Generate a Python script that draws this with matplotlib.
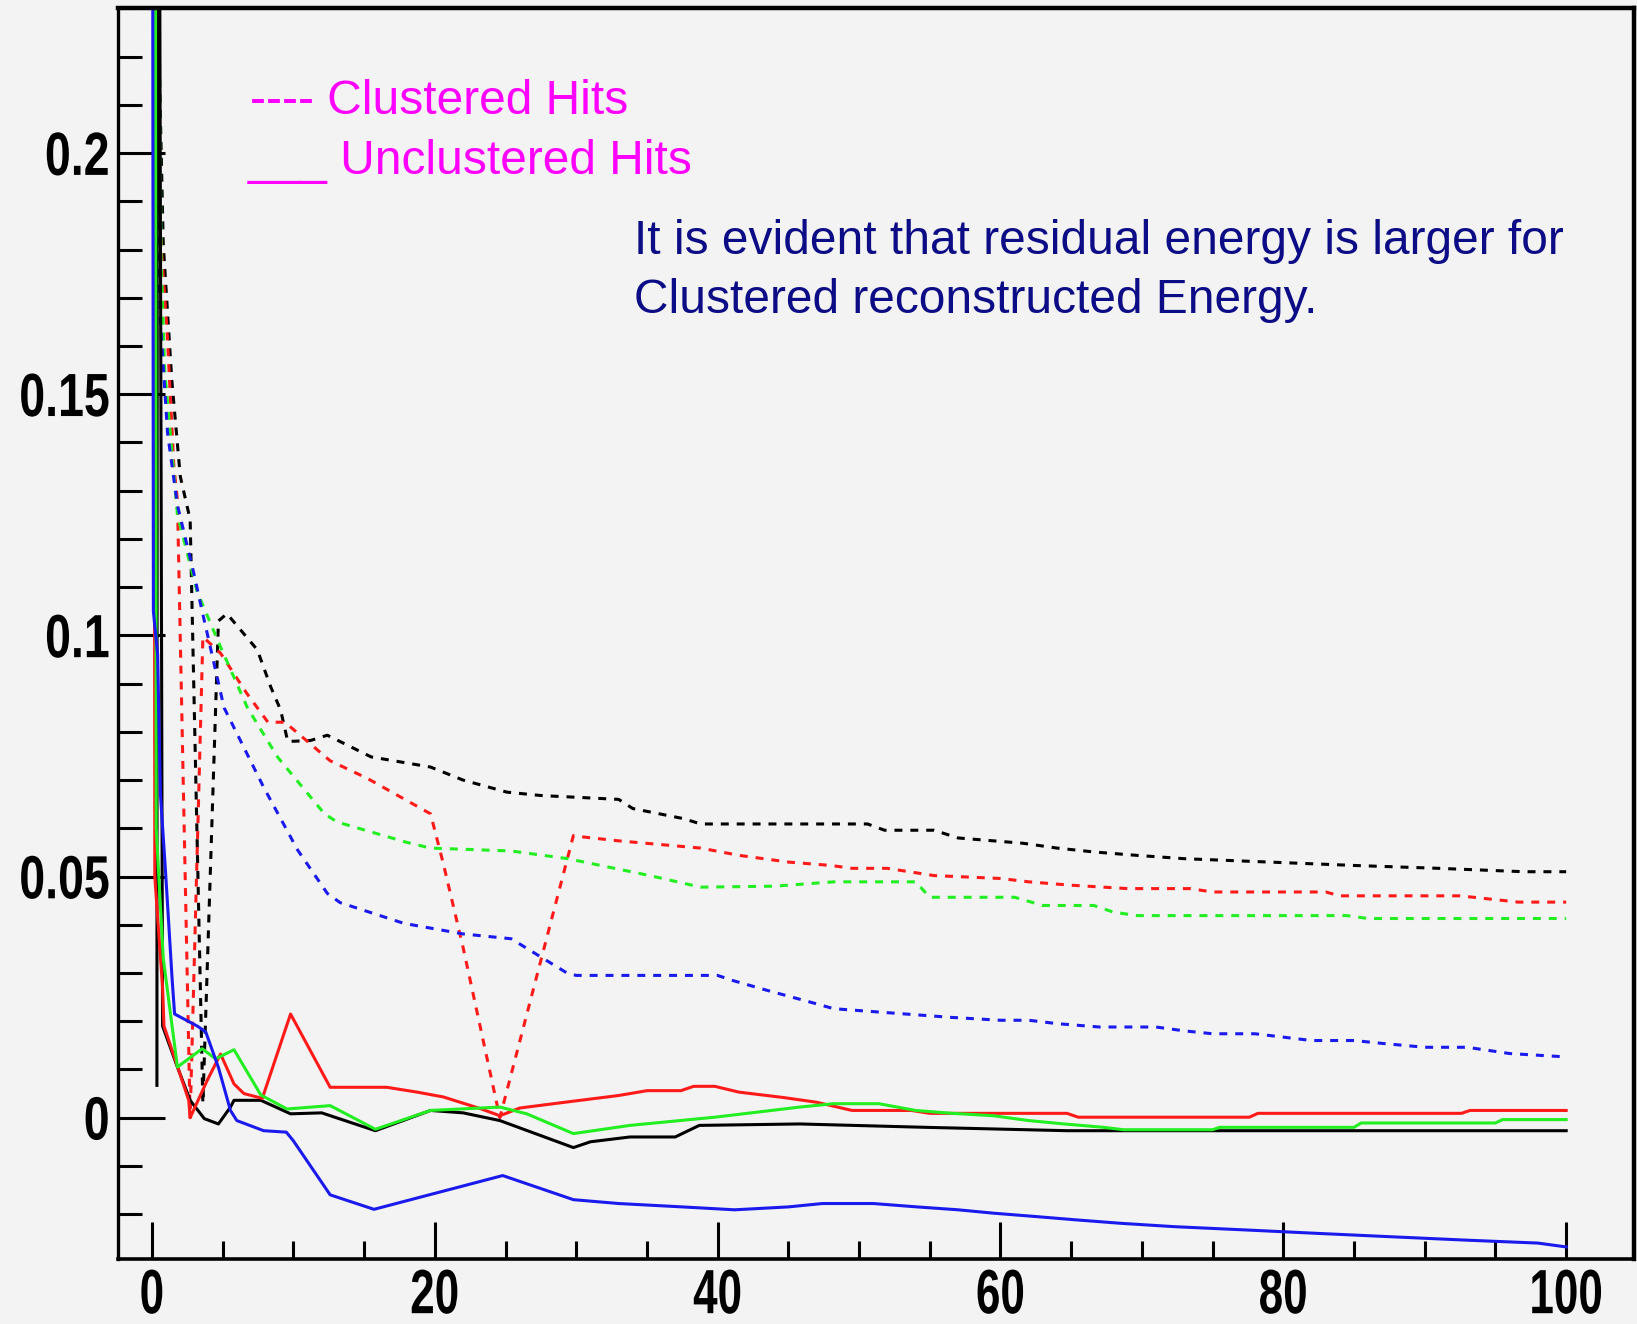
import matplotlib
matplotlib.use('Agg')
import matplotlib.pyplot as plt
from matplotlib.ticker import MultipleLocator
from matplotlib.patheffects import AbstractPathEffect
from matplotlib.transforms import Affine2D

# Clustered hits (dashed)
black_dash_x = [0.3, 0.5, 0.8, 1.4, 2.0, 2.7, 3.6, 4.7, 5.3, 7.45, 8.4, 9.1, 9.6, 11.2, 12.4, 15.5, 19.7, 22.0, 25.1,
                27.5, 33.0, 34.0, 37.6, 38.8, 50.6, 51.8, 55.3, 57.0, 61.6, 64.0, 66.6, 69.6, 73.0, 79.0, 85.0, 91.0, 97.0, 100.0]
black_dash_y = [0.40, 0.22, 0.181, 0.153, 0.133, 0.124, 0.003, 0.103, 0.1045, 0.097, 0.0893, 0.0845, 0.078, 0.0782, 0.0793, 0.0748, 0.0727, 0.070, 0.0675,
                0.0668, 0.066, 0.0641, 0.062, 0.0609, 0.0609, 0.0596, 0.0596, 0.058, 0.0569, 0.0559, 0.0551, 0.0544, 0.0537, 0.053, 0.0523, 0.0517, 0.051, 0.051]

red_dash_x = [0.2, 0.5, 1.07, 1.55, 1.8, 2.7, 3.6, 4.85, 6.7, 8.2, 9.4, 12.6, 15.2, 19.7, 20.6, 22.0, 24.6, 29.8, 30.5, 33.0,
              38.8, 41.5, 45.0, 48.0, 49.5, 52.0, 55.3, 60.0, 62.0, 65.0, 69.0, 73.4, 75.0, 83.0, 84.0, 92.5, 96.6, 100.0]
red_dash_y = [0.40, 0.187, 0.163, 0.135, 0.128, 0.0, 0.0997, 0.0963, 0.088, 0.082, 0.082, 0.074, 0.0704, 0.063, 0.0527, 0.0353, 0.0, 0.0585, 0.0582, 0.0574,
              0.0559, 0.0544, 0.053, 0.0523, 0.0517, 0.0517, 0.0502, 0.0496, 0.0489, 0.0482, 0.0475, 0.0475, 0.0468, 0.0468, 0.046, 0.046, 0.0447, 0.0447]

green_dash_x = [0.4, 0.5, 0.65, 0.9, 1.8, 3.2, 4.85, 6.75, 8.9, 12.2, 13.1, 18.0, 19.7, 25.4, 29.4, 35.2, 38.8, 44.0, 48.2, 54.0,
                55.0, 61.0, 63.0, 66.6, 68.0, 69.7, 84.5, 86.0, 100.0]
green_dash_y = [0.40, 0.23, 0.178, 0.155, 0.125, 0.109, 0.0976, 0.085, 0.0747, 0.063, 0.0613, 0.0571, 0.0559, 0.0553, 0.0537, 0.0502, 0.0478, 0.048, 0.0489, 0.0489,
                0.0457, 0.0457, 0.044, 0.044, 0.0426, 0.0419, 0.0419, 0.0413, 0.0413]

blue_dash_x = [0.1, 0.3, 0.6, 1.1, 1.8, 2.95, 3.55, 5.1, 7.9, 10.3, 12.4, 13.3, 17.8, 22.0, 25.4, 29.4, 30.0, 40.0, 41.0, 43.5,
               47.0, 48.2, 56.5, 60.0, 62.0, 64.0, 67.0, 71.0, 73.0, 75.0, 78.0, 80.0, 82.0, 85.0, 87.0, 90.0, 93.0, 96.0, 100.0]
blue_dash_y = [0.40, 0.20, 0.165, 0.142, 0.127, 0.113, 0.105, 0.085, 0.0685, 0.0555, 0.0465, 0.0446, 0.0403, 0.0381, 0.0371, 0.0299, 0.0295, 0.0295, 0.0285, 0.0264,
               0.0236, 0.0226, 0.0208, 0.0202, 0.0202, 0.0195, 0.0188, 0.0188, 0.018, 0.0174, 0.0174, 0.0167, 0.016, 0.016, 0.0154, 0.0146, 0.0146, 0.0133, 0.0126]

# Unclustered hits (solid)
black_x = [0.35, 0.4, 0.75, 1.8, 2.7, 3.7, 4.7, 5.55, 5.8, 7.7, 9.8, 12.0, 15.8, 19.7, 22.0, 24.6, 29.8, 31.0, 33.8, 37.0,
           38.7, 45.8, 54.7, 64.7, 100.0]
black_y = [0.0067, 0.40, 0.019, 0.0105, 0.0036, -0.0002, -0.0013, 0.0022, 0.0036, 0.0036, 0.0008, 0.001, -0.0027, 0.0015, 0.001, -0.0006, -0.0062, -0.005, -0.004, -0.004,
           -0.0016, -0.0013, -0.002, -0.0027, -0.0027]

red_x = [0.1, 0.2, 0.75, 0.85, 2.6, 2.7, 3.9, 4.85, 5.8, 6.5, 7.8, 9.8, 12.6, 16.6, 18.75, 20.6, 23.2, 24.6, 26.0, 29.2,
         33.0, 35.0, 37.4, 38.3, 39.8, 41.5, 44.6, 47.0, 49.5, 53.7, 55.0, 64.7, 65.5, 77.6, 78.2, 92.6, 93.2, 100.0]
red_y = [0.40, 0.05, 0.027, 0.019, 0.0036, 0.0, 0.0077, 0.0132, 0.007, 0.005, 0.004, 0.0215, 0.0063, 0.0063, 0.0053, 0.0043, 0.0019, 0.0004, 0.002, 0.0032,
         0.0046, 0.0056, 0.0056, 0.0065, 0.0065, 0.0053, 0.0042, 0.0032, 0.0015, 0.0015, 0.0009, 0.0009, 0.0001, 0.0001, 0.0009, 0.0009, 0.0015, 0.0015]

green_x = [0.2, 0.3, 0.8, 1.8, 3.55, 4.5, 5.8, 7.7, 9.55, 12.6, 15.8, 19.7, 24.6, 26.5, 29.8, 33.8, 39.8, 45.8, 48.2, 51.4,
           54.0, 56.6, 59.5, 62.0, 64.5, 67.3, 68.7, 75.0, 75.5, 85.0, 85.5, 95.0, 95.5, 100.0]
green_y = [0.40, 0.06, 0.033, 0.0105, 0.0143, 0.0122, 0.0141, 0.0047, 0.0018, 0.0025, -0.0024, 0.0015, 0.0022, 0.0008, -0.0033, -0.0016, 0.0001, 0.0022, 0.0029, 0.0029,
           0.0015, 0.0009, 0.0004, -0.0006, -0.0013, -0.002, -0.0025, -0.0025, -0.002, -0.002, -0.0011, -0.0011, -0.0004, -0.0004]

blue_x = [0.0, 0.1, 0.4, 0.6, 0.96, 1.43, 1.6, 3.2, 3.8, 4.7, 5.55, 6.0, 7.9, 9.5, 10.0, 12.6, 15.7, 24.8, 29.8, 33.0,
          37.5, 41.2, 45.0, 47.4, 51.0, 54.1, 57.0, 59.5, 62.5, 65.4, 68.5, 72.3, 77.5, 82.5, 87.7, 93.0, 98.0, 100.0]
blue_y = [0.40, 0.105, 0.096, 0.067, 0.051, 0.0285, 0.0215, 0.019, 0.0178, 0.0104, 0.0015, -0.0006, -0.0027, -0.003, -0.0048, -0.016, -0.019, -0.012, -0.017, -0.0178,
          -0.0185, -0.0191, -0.0185, -0.0178, -0.0178, -0.0185, -0.0191, -0.0198, -0.0205, -0.0212, -0.0219, -0.0226, -0.0233, -0.024, -0.0247, -0.0254, -0.026, -0.0268]

x_ticks = [0, 20, 40, 60, 80, 100]
x_tick_labels = ['0', '20', '40', '60', '80', '100']
y_ticks = [0, 0.05, 0.1, 0.15, 0.2]
y_tick_labels = ['0', '0.05', '0.1', '0.15', '0.2']

BG = '#f3f3f3'
C_BLACK, C_RED, C_GREEN, C_BLUE = '#000000', '#ff1a1a', '#22ee22', '#1a1aee'


class Squeeze(AbstractPathEffect):
    # tall, narrow glyphs like the condensed tick font of the original
    def __init__(self, sx, sy, anchor='center'):
        super().__init__()
        self.sx, self.sy, self.anchor = sx, sy, anchor

    def draw_path(self, renderer, gc, tpath, affine, rgbFace=None):
        pts = affine.transform(tpath.vertices)
        x0 = pts[:, 0].max() if self.anchor == 'right' else (pts[:, 0].min() + pts[:, 0].max()) / 2
        y0 = (pts[:, 1].min() + pts[:, 1].max()) / 2
        t = affine + Affine2D().translate(-x0, -y0).scale(self.sx, self.sy).translate(x0, y0)
        renderer.draw_path(gc, tpath, t, rgbFace)


fig = plt.figure(figsize=(16.37, 13.24), dpi=100, facecolor=BG)
ax = fig.add_axes([0.0721, 0.0491, 0.9261, 0.9449], facecolor=BG)

lw = 2.2
dash = (2.6, 2.6)
for xs, ys, c in [(black_dash_x, black_dash_y, C_BLACK), (red_dash_x, red_dash_y, C_RED),
                  (green_dash_x, green_dash_y, C_GREEN), (blue_dash_x, blue_dash_y, C_BLUE)]:
    ax.plot(xs, ys, color=c, lw=lw, dashes=dash)

for xs, ys, c in [(black_x, black_y, C_BLACK), (red_x, red_y, C_RED),
                  (green_x, green_y, C_GREEN), (blue_x, blue_y, C_BLUE)]:
    ax.plot(xs, ys, color=c, lw=lw)

ax.set_xlim(-2.4, 104.8)
ax.set_ylim(-0.0293, 0.2301)

tick_font = dict(family=['Liberation Sans', 'DejaVu Sans'], weight='bold', size=36)
ax.set_xticks(x_ticks)
ax.set_xticklabels(x_tick_labels, **tick_font)
ax.set_yticks(y_ticks)
ax.set_yticklabels(y_tick_labels, **tick_font)
plt.setp(ax.get_xticklabels(), path_effects=[Squeeze(0.88, 1.25)])
plt.setp(ax.get_yticklabels(), path_effects=[Squeeze(0.93, 1.22, 'right')])
ax.xaxis.set_minor_locator(MultipleLocator(5))
ax.yaxis.set_minor_locator(MultipleLocator(0.01))

ax.tick_params(axis='y', which='major', direction='in', length=34, width=2.2, pad=6)
ax.tick_params(axis='y', which='minor', direction='in', length=17, width=2.2)
ax.tick_params(axis='x', which='major', direction='in', length=27, width=2.2, pad=10)
ax.tick_params(axis='x', which='minor', direction='in', length=13, width=2.2)

for side, w in [('left', 2.4), ('bottom', 2.6), ('top', 3.2), ('right', 3.2)]:
    ax.spines[side].set_linewidth(w)

txt_font = dict(family=['Liberation Sans', 'DejaVu Sans'], size=34.5)
fig.text(250 / 1637, 1 - 114 / 1324, '---- Clustered Hits', color='#ff00ff', va='baseline', **txt_font)
fig.text(248 / 1637, 1 - 174 / 1324, '___ Unclustered Hits', color='#ff00ff', va='baseline', **txt_font)
fig.text(634 / 1637, 1 - 254 / 1324, 'It is evident that residual energy is larger for',
         color='#0c0c86', va='baseline', **txt_font)
fig.text(634 / 1637, 1 - 313 / 1324, 'Clustered reconstructed Energy.',
         color='#0c0c86', va='baseline', **txt_font)

fig.savefig('out.png', dpi=100, facecolor=BG)
